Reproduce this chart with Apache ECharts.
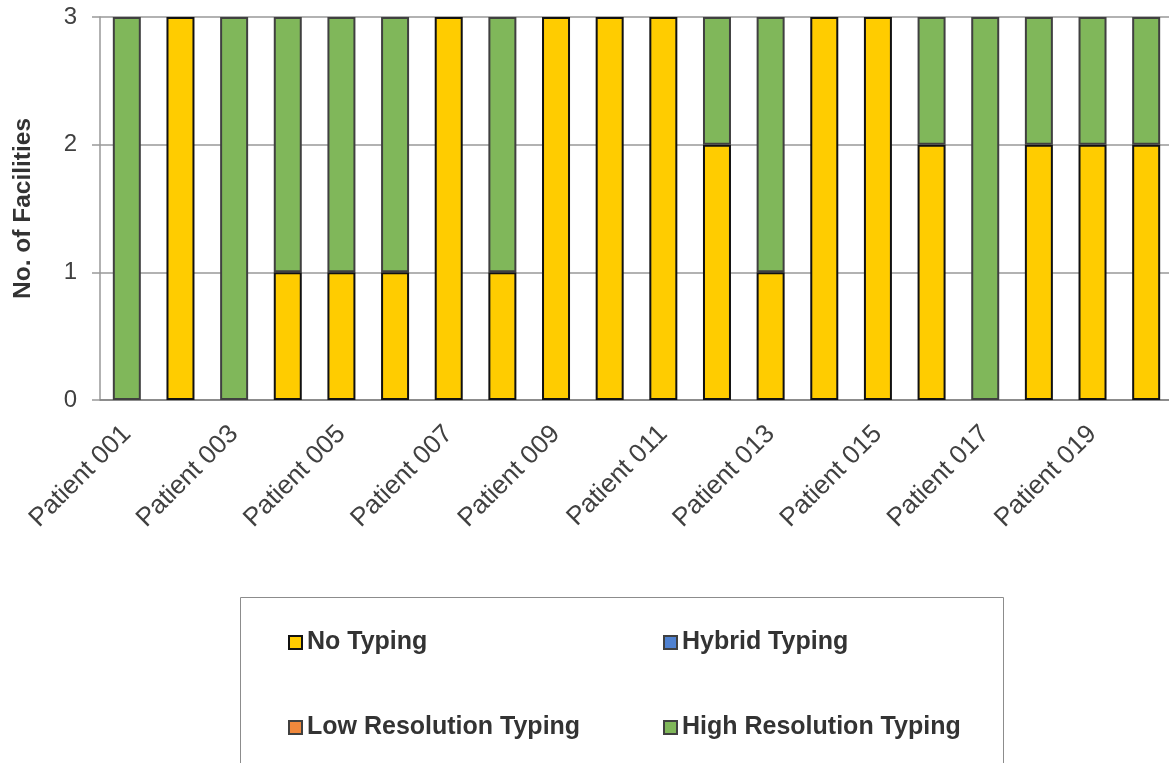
<!DOCTYPE html>
<html>
<head>
<meta charset="utf-8">
<script src="https://cdn.jsdelivr.net/npm/echarts@6/dist/echarts.min.js"></script>
<style>
  html, body { margin: 0; padding: 0; background: #fff; }
  #chart { width: 1169px; height: 763px; }
</style>
</head>
<body>
<div id="chart"></div>
<script>
// Patients on the category axis
const patients = [
  'Patient 001', 'Patient 002', 'Patient 003', 'Patient 004', 'Patient 005',
  'Patient 006', 'Patient 007', 'Patient 008', 'Patient 009', 'Patient 010',
  'Patient 011', 'Patient 012', 'Patient 013', 'Patient 014', 'Patient 015',
  'Patient 016', 'Patient 017', 'Patient 018', 'Patient 019', 'Patient 020'
];

// Number of facilities per typing level, one value per patient
const noTyping      = [0, 3, 0, 1, 1, 1, 3, 1, 3, 3, 3, 2, 1, 3, 3, 2, 0, 2, 2, 2];
const hybridTyping  = [0, 0, 0, 0, 0, 0, 0, 0, 0, 0, 0, 0, 0, 0, 0, 0, 0, 0, 0, 0];
const lowResTyping  = [0, 0, 0, 0, 0, 0, 0, 0, 0, 0, 0, 0, 0, 0, 0, 0, 0, 0, 0, 0];
const highResTyping = [3, 0, 3, 2, 2, 2, 0, 2, 0, 0, 0, 1, 2, 0, 0, 1, 3, 1, 1, 1];

const yTicks = { min: 0, max: 3, interval: 1 };

const FONT = 'Liberation Sans, Arial, sans-serif';
const TEXT = '#404040';

// empty segments are left out so no zero-height outline is stroked
const seg = arr => arr.map(v => (v === 0 ? null : v));

function barSeries(name, data, fill, edge) {
  return {
    name: name,
    type: 'bar',
    stack: 'facilities',
    barWidth: 28,
    data: seg(data),
    itemStyle: { color: fill, borderColor: edge, borderWidth: 2 },
    emphasis: { disabled: true }
  };
}

const chart = echarts.init(document.getElementById('chart'), null, { renderer: 'canvas' });

chart.setOption({
  animation: false,
  backgroundColor: '#ffffff',
  grid: {
    left: 100, top: 17, width: 1073, height: 383,
    containLabel: false,
    outerBoundsMode: 'none'
  },
  xAxis: {
    type: 'category',
    data: patients,
    axisLine: { lineStyle: { color: '#808080', width: 1.5 } },
    axisTick: { alignWithLabel: true, interval: 0, length: 7, lineStyle: { color: '#808080', width: 1.5 } },
    axisLabel: {
      interval: 1,
      rotate: 45,
      margin: 30,
      color: TEXT,
      fontFamily: FONT,
      fontSize: 26
    }
  },
  yAxis: {
    type: 'value',
    min: yTicks.min,
    max: yTicks.max,
    interval: yTicks.interval,
    name: 'No. of Facilities',
    nameLocation: 'middle',
    nameGap: 64,
    nameTextStyle: { color: '#333', fontFamily: FONT, fontSize: 24.5, fontWeight: 'bold' },
    axisLine: { show: true, lineStyle: { color: '#999', width: 1.5 } },
    axisTick: { show: true, length: 8, lineStyle: { color: '#999', width: 1.5 } },
    splitLine: { show: true, lineStyle: { color: '#999', width: 1.5 } },
    axisLabel: { color: TEXT, fontFamily: FONT, fontSize: 24, margin: 23 }
  },
  legend: {
    left: 283,
    top: 625,
    width: 700,
    orient: 'horizontal',
    icon: 'rect',
    itemWidth: 13,
    itemHeight: 13,
    itemGap: 60,
    selectedMode: false,
    data: ['No Typing', 'Hybrid Typing', 'Low Resolution Typing', 'High Resolution Typing'],
    textStyle: {
      color: '#333',
      fontFamily: FONT,
      fontSize: 25,
      fontWeight: 'bold',
      width: 296,
      lineHeight: 25
    }
  },
  graphic: [{
    type: 'rect',
    silent: true,
    shape: { x: 240.5, y: 597.5, width: 763, height: 200 },
    style: { fill: 'none', stroke: '#8c8c8c', lineWidth: 1 }
  }],
  series: [
    barSeries('No Typing', noTyping, '#FFCC00', '#111111'),
    barSeries('Hybrid Typing', hybridTyping, '#4F81D0', '#404040'),
    barSeries('Low Resolution Typing', lowResTyping, '#F0883C', '#404040'),
    barSeries('High Resolution Typing', highResTyping, '#80B75A', '#404040')
  ]
});
</script>
</body>
</html>
